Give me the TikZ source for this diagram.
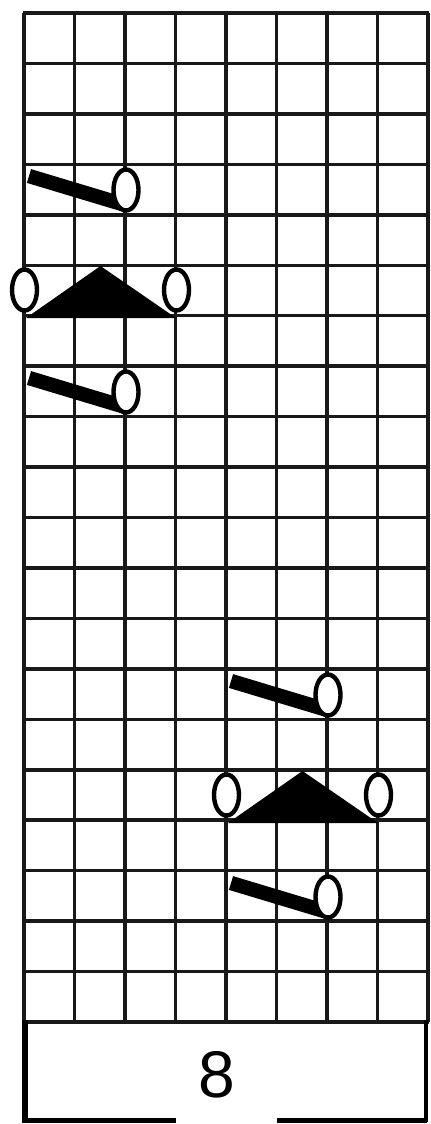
\documentclass[tikz,border=0pt]{standalone}
\usepackage{fontspec}
\setmainfont{Liberation Sans}
\usetikzlibrary{shapes.geometric}
\tikzset{
  gridline/.style={line width=1.75pt, black!90},
  boxline/.style={line width=2.5pt, black},
  oval/.style={ellipse, draw=black, fill=white, line width=2.2pt, minimum width=12.5pt, minimum height=20.5pt, inner sep=0pt},
  slantbar/.style={line width=7.2pt, black},
  dectri/.style={fill=black},
  label/.style={font=\fontsize{33}{33}\selectfont, inner sep=0pt}
}
\begin{document}
\begin{tikzpicture}[x=0.5pt, y=-0.5pt]
\useasboundingbox (0,0) rectangle (430,1124);
% grid
\foreach \i in {0,...,8} {
  \draw[gridline] ({24+\i*50.5},13) -- ({24+\i*50.5},1022);
}
\foreach \j in {0,...,20} {
  \draw[gridline] (23,{13+\j*50.45}) -- (429,{13+\j*50.45});
}
% bottom box
\draw[line width=3pt] (25,1020) -- (25,1122);
\draw[line width=2pt] (426,1020) -- (426,1122);
\draw[boxline] (22,1120) -- (176,1120);
\draw[boxline] (277,1120) -- (427,1120);
\node[label] (num) at (217,1075) {8};
% symbol groups
\foreach \dx/\dy/\g in {0/0/a, 202/505/b} {
  \begin{scope}[shift={(\dx,\dy)}]
    % upper bar
    \draw[slantbar] (29,176) -- (122,204);
    \node[oval] (\g1) at (126,190) {};
    % triangle
    \fill[dectri] (26,318) -- (176,318) -- (100.5,266) -- cycle;
    \node[oval] (\g2) at (24.5,290) {};
    \node[oval] (\g3) at (176.5,290) {};
    % lower bar
    \draw[slantbar] (29,378) -- (122,406);
    \node[oval] (\g4) at (126,392) {};
  \end{scope}
}
\end{tikzpicture}
\end{document}
